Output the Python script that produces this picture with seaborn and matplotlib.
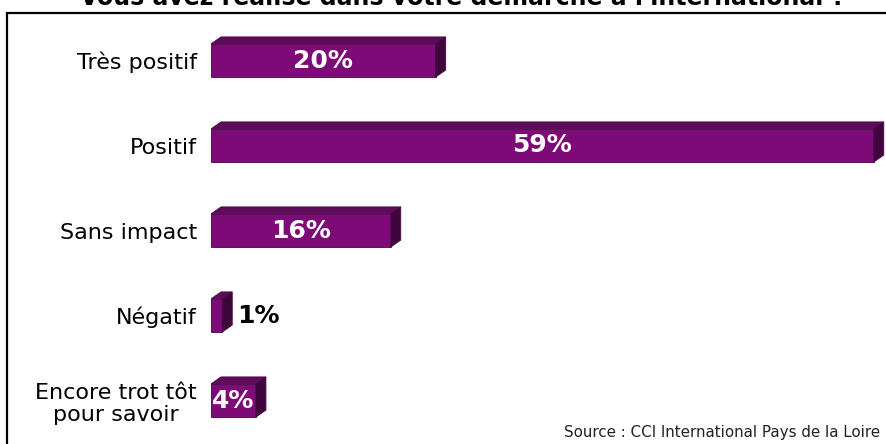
import matplotlib
matplotlib.use("Agg")
import matplotlib.pyplot as plt
from matplotlib.patches import Polygon, Rectangle
import seaborn as sns
import pandas as pd

categories = ["Très positif", "Positif", "Sans impact", "Négatif",
              "Encore trot tôt\npour savoir"]
shares = [20, 59, 16, 1, 4]
title = "Vous avez réalisé dans votre démarche à l'international ?"
source = "Source : CCI International Pays de la Loire"

FRONT = "#7E0A78"
TOP = "#5E0B5A"
SIDE = "#3F063D"
EDGE = "#4A0447"

W, H = 886, 444
sns.set_theme(style="white")
plt.rcParams["font.family"] = ["DejaVu Sans"]

fig = plt.figure(figsize=(W / 100, H / 100), dpi=100)
fig.patch.set_facecolor("white")

# axes placed in pixel terms: x=0 at 211 px, 60 % spans 674 px
ax_left, ax_w = 211, 674
ax_top, ax_h = 18, 425
ax = fig.add_axes([ax_left / W, 1 - (ax_top + ax_h) / H, ax_w / W, ax_h / H])

df = pd.DataFrame({"cat": categories, "share": shares})
sns.barplot(data=df, x="share", y="cat", orient="h", color=FRONT,
            saturation=1, width=0.39, ax=ax, edgecolor=EDGE, linewidth=0.6)

ax.set_xlim(0, 60)
ax.set_ylim(len(categories) - 0.5, -0.5)
ax.set_facecolor("none")

# depth of the 3-D faces, converted from pixels to data units
px_x = ax_w / 60.0
px_y = ax_h / len(categories)
dx = 10 / px_x
dy = 7 / px_y

for bar, v in zip(ax.patches, shares):
    x0 = bar.get_x()
    w = bar.get_width()
    y0 = bar.get_y()
    h = bar.get_height()
    ytop = y0            # upper edge (axis is inverted)
    ybot = y0 + h
    top = Polygon([(x0, ytop), (x0 + w, ytop), (x0 + w + dx, ytop - dy),
                   (x0 + dx, ytop - dy)], closed=True, facecolor=TOP,
                  edgecolor=EDGE, linewidth=0.6, zorder=3)
    side = Polygon([(x0 + w, ytop), (x0 + w + dx, ytop - dy),
                    (x0 + w + dx, ybot - dy), (x0 + w, ybot)], closed=True,
                   facecolor=SIDE, edgecolor=EDGE, linewidth=0.6, zorder=3)
    ax.add_patch(top)
    ax.add_patch(side)
    yc = y0 + h / 2
    if v < 2:
        ax.text(x0 + w + dx + 5 / px_x, yc, f"{v}%", ha="left", va="center",
                color="black", fontsize=18, fontweight="bold", zorder=4)
    else:
        ax.text(x0 + w / 2, yc, f"{v}%", ha="center", va="center",
                color="white", fontsize=18, fontweight="bold", zorder=4)

ax.set_xlabel("")
ax.set_ylabel("")
ax.set_xticks([])
ax.tick_params(axis="y", length=0, pad=10, labelsize=16, labelcolor="black")
for lbl in ax.get_yticklabels():
    lbl.set_multialignment("center")
    lbl.set_linespacing(1.15)
for s in ax.spines.values():
    s.set_visible(False)

# frame around the chart area
fig.add_artist(Rectangle((7 / W, -0.2), 1.2, 1.2 - 13 / H,
                         transform=fig.transFigure, fill=False,
                         edgecolor="black", linewidth=1.6))

fig.text(463 / W, 1 - 5 / H, title, ha="center", va="baseline",
         fontsize=17, fontweight="bold", color="black")
fig.text(880 / W, 1 - 432 / H, source, ha="right", va="center",
         fontsize=10.9, color="#222222")

fig.savefig("out.png", dpi=100)
